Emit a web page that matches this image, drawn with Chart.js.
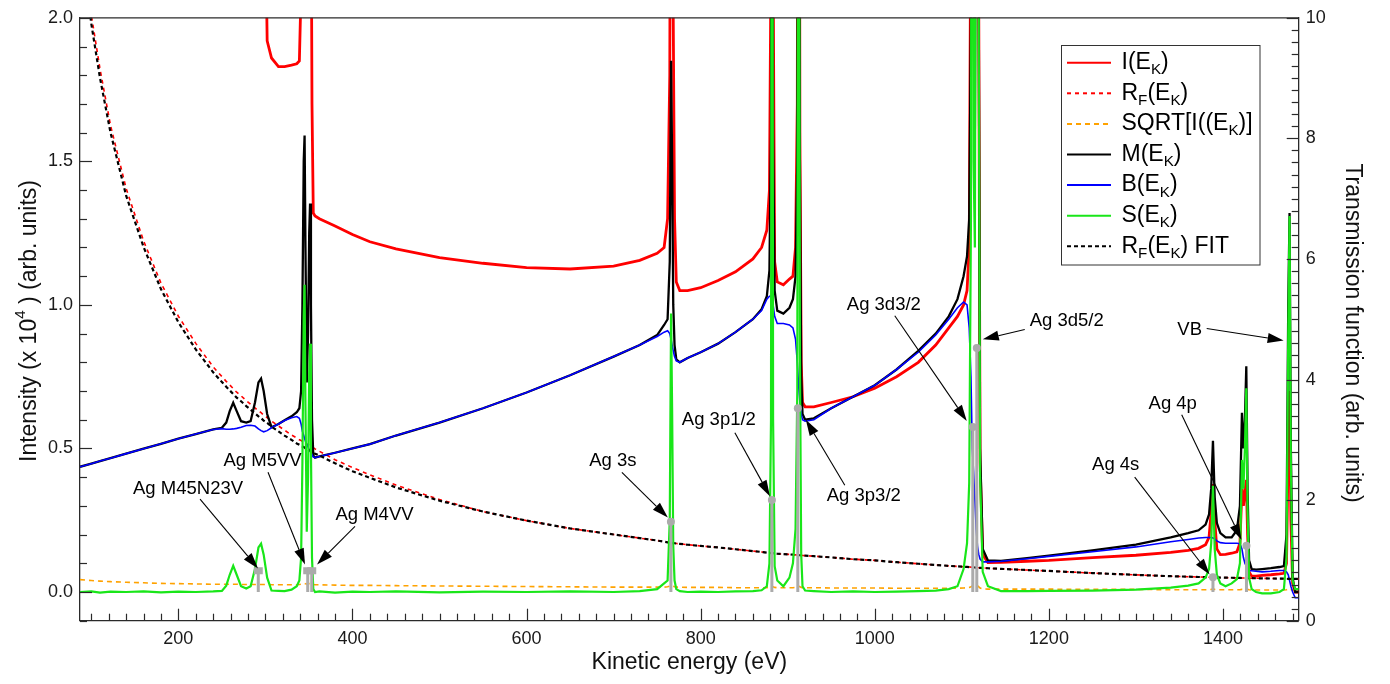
<!DOCTYPE html>
<html><head><meta charset="utf-8">
<script src="https://cdn.jsdelivr.net/npm/chart.js@4.4.1/dist/chart.umd.min.js"></script>
<style>html,body{margin:0;padding:0;background:#fff;}#wrap{width:1390px;height:684px;}</style>
</head><body><div id="wrap"><canvas id="c" width="1390" height="684"></canvas></div>
<script>
// ---------- DATA ----------
const energy = [
87,100,110,122,140,160,180,200,220,240,
250,255,259,263,267,272,278,283,288,292,
295,298,302,307,315,322,330,336,339,341,
342.5,344,345,346,347.5,349,350.3,351.3,352.3,353.5,
355,357,362,380,400,420,450,500,550,600,
650,700,730,750,758,762,764.5,766,767.2,768.5,
770,772,776,785,800,820,840,860,870,876,
879,880.8,882,883.2,885,888,895,902,906,909,
911,912.5,914,915.5,917,920,930,950,975,1000,
1025,1050,1070,1085,1095,1102,1106,1108.5,1110.5,1112,
1113.5,1115,1116.5,1118,1119.5,1121,1124,1130,1145,1175,
1200,1250,1300,1340,1360,1372,1380,1384,1386.5,1388.5,
1390.5,1393,1397,1403,1410,1416,1419.5,1421.8,1423.5,1425.2,
1426.8,1428.3,1430,1433,1438,1445,1455,1465,1470,1473,
1475,1476.5,1478,1480,1483,1487];

// I(E_K) - red solid (left axis)
const seriesI = [
null,null,null,null,null,null,null,null,null,null,
null,null,null,null,null,null,null,null,null,null,
null,2.8,1.92,1.86,1.83,1.83,1.835,1.84,1.85,2.1,
3.0,3.5,3.6,3.4,3.0,3.1,3.3,3.3,2.6,1.7,
1.32,1.31,1.3,1.275,1.245,1.22,1.195,1.165,1.145,1.13,
1.125,1.135,1.155,1.18,1.2,1.3,1.8,3.5,3.0,2.0,
1.3,1.08,1.05,1.05,1.06,1.085,1.115,1.16,1.2,1.26,
1.4,2.2,5,2.2,1.15,1.08,1.07,1.09,1.1,1.2,
1.7,5,1.6,0.8,0.66,0.645,0.645,0.66,0.68,0.71,
0.75,0.8,0.86,0.92,0.96,1.0,1.05,1.2,2.5,6,
2.5,2.0,4,7,2.0,0.45,0.13,0.102,0.103,0.107,
0.11,0.12,0.128,0.138,0.145,0.152,0.165,0.19,0.28,0.376,
0.25,0.15,0.13,0.131,0.135,0.14,0.17,0.36,0.3,0.35,
0.39,0.2,0.07,0.055,0.055,0.058,0.06,0.063,0.065,0.1,
0.5,0.7,0.25,0.03,0.0,0.0];

// R_F(E_K) - red dashed (right axis)
const seriesRF = [
11.6,10.05,9.15,8.22,7.17,6.3,5.6,5.05,4.6,4.21,
4.05,3.97,3.91,3.85,3.79,3.73,3.65,3.59,3.53,3.48,
3.45,3.41,3.37,3.31,3.23,3.16,3.08,3.03,3.0,2.99,
2.97,2.96,2.95,2.94,2.93,2.92,2.91,2.9,2.89,2.88,
2.87,2.85,2.81,2.67,2.54,2.42,2.25,2.01,1.81,1.66,
1.53,1.43,1.37,1.33,1.31,1.30,1.295,1.29,1.288,1.286,
1.285,1.28,1.275,1.26,1.24,1.215,1.185,1.155,1.14,1.13,
1.125,1.122,1.12,1.118,1.115,1.11,1.105,1.10,1.095,1.092,
1.09,1.088,1.086,1.084,1.082,1.08,1.07,1.05,1.02,1.0,
0.97,0.945,0.925,0.91,0.90,0.895,0.892,0.89,0.888,0.886,
0.884,0.882,0.88,0.879,0.878,0.877,0.875,0.87,0.86,0.84,
0.825,0.79,0.76,0.738,0.73,0.725,0.722,0.72,0.72,0.719,
0.718,0.717,0.716,0.714,0.712,0.71,0.709,0.708,0.708,0.707,
0.707,0.706,0.706,0.705,0.704,0.703,0.70,0.698,0.697,0.696,
0.695,0.695,0.694,0.694,0.693,0.692];

// R_F(E_K) FIT - black dashed (right axis)
const seriesFit = [
11.4,9.9,9.0,8.1,7.05,6.2,5.5,4.95,4.5,4.12,
3.96,3.88,3.82,3.76,3.7,3.64,3.56,3.5,3.44,3.39,
3.36,3.32,3.28,3.22,3.14,3.07,3.0,2.94,2.92,2.9,
2.89,2.88,2.87,2.86,2.85,2.84,2.83,2.82,2.81,2.8,
2.79,2.77,2.74,2.61,2.48,2.37,2.21,1.99,1.81,1.66,
1.53,1.43,1.37,1.33,1.31,1.30,1.295,1.29,1.288,1.286,
1.285,1.28,1.275,1.26,1.24,1.215,1.185,1.155,1.14,1.13,
1.125,1.122,1.12,1.118,1.115,1.11,1.105,1.10,1.095,1.092,
1.09,1.088,1.086,1.084,1.082,1.08,1.07,1.05,1.02,1.0,
0.97,0.945,0.925,0.91,0.90,0.895,0.892,0.89,0.888,0.886,
0.884,0.882,0.88,0.879,0.878,0.877,0.875,0.87,0.86,0.84,
0.825,0.79,0.76,0.738,0.73,0.725,0.722,0.72,0.72,0.719,
0.718,0.717,0.716,0.714,0.712,0.71,0.709,0.708,0.708,0.707,
0.707,0.706,0.706,0.705,0.704,0.703,0.70,0.698,0.697,0.696,
0.695,0.695,0.694,0.694,0.693,0.692];

// SQRT[I(E_K)] - orange dashed (left axis)
const seriesSqrt = [
0.043,0.040,0.038,0.036,0.034,0.032,0.030,0.029,0.028,0.027,
0.027,0.027,0.027,0.027,0.027,0.026,0.026,0.026,0.026,0.026,
0.026,0.026,0.026,0.025,0.025,0.025,0.025,0.025,0.026,0.027,
0.028,0.029,0.03,0.029,0.028,0.028,0.029,0.029,0.028,0.027,
0.026,0.025,0.025,0.024,0.023,0.023,0.022,0.021,0.02,0.019,
0.018,0.017,0.017,0.017,0.017,0.018,0.02,0.022,0.021,0.02,
0.018,0.017,0.017,0.016,0.016,0.016,0.015,0.015,0.015,0.015,
0.016,0.018,0.02,0.018,0.016,0.015,0.015,0.015,0.015,0.016,
0.018,0.02,0.018,0.016,0.015,0.015,0.015,0.014,0.014,0.014,
0.013,0.013,0.013,0.013,0.013,0.014,0.015,0.016,0.018,0.02,
0.018,0.018,0.02,0.022,0.018,0.014,0.011,0.01,0.01,0.01,
0.01,0.009,0.009,0.008,0.008,0.008,0.008,0.008,0.009,0.01,
0.009,0.008,0.008,0.008,0.008,0.008,0.008,0.009,0.009,0.009,
0.01,0.009,0.008,0.007,0.007,0.007,0.007,0.007,0.007,0.008,
0.01,0.012,0.009,0.007,0.007,0.007];

// M(E_K) - black solid (left axis)
const seriesM = [
0.436,0.447,0.456,0.466,0.482,0.499,0.516,0.534,0.55,0.566,
0.572,0.59,0.63,0.659,0.63,0.595,0.59,0.595,0.66,0.73,
0.743,0.70,0.62,0.574,0.585,0.598,0.612,0.626,0.64,0.70,
1.0,1.50,1.59,1.2,0.73,0.9,1.25,1.353,1.0,0.6,
0.475,0.468,0.472,0.485,0.50,0.515,0.545,0.59,0.64,0.695,
0.755,0.82,0.86,0.895,0.93,0.95,1.15,1.85,1.5,1.0,
0.86,0.81,0.80,0.815,0.835,0.865,0.905,0.95,0.985,1.03,
1.12,1.6,4.0,1.6,1.05,0.98,0.97,0.99,1.02,1.1,
1.5,4.0,1.5,0.75,0.62,0.60,0.605,0.64,0.68,0.72,
0.775,0.84,0.9,0.96,1.02,1.1,1.17,1.3,2.0,5,
2.0,1.6,3,6,2.0,0.5,0.15,0.11,0.108,0.118,
0.127,0.145,0.165,0.19,0.205,0.215,0.235,0.27,0.36,0.527,
0.33,0.24,0.205,0.19,0.19,0.215,0.3,0.624,0.5,0.6,
0.786,0.35,0.11,0.08,0.078,0.08,0.083,0.087,0.09,0.2,
1.0,1.32,0.5,0.05,0.0,0.0];

// B(E_K) - blue solid (left axis)
const seriesB = [
0.436,0.447,0.456,0.466,0.482,0.499,0.516,0.534,0.55,0.566,
0.569,0.567,0.567,0.568,0.57,0.574,0.58,0.581,0.578,0.568,
0.562,0.558,0.562,0.572,0.585,0.597,0.607,0.611,0.605,0.585,
0.56,0.545,0.535,0.525,0.515,0.505,0.495,0.49,0.485,0.478,
0.47,0.468,0.472,0.485,0.50,0.515,0.545,0.59,0.64,0.695,
0.755,0.82,0.86,0.89,0.905,0.91,0.9,0.88,0.86,0.84,
0.82,0.805,0.80,0.815,0.835,0.865,0.905,0.95,0.98,1.02,
1.03,1.03,1.02,1.0,0.96,0.935,0.935,0.93,0.92,0.88,
0.8,0.72,0.66,0.62,0.60,0.595,0.60,0.64,0.68,0.72,
0.775,0.835,0.895,0.95,0.99,1.01,1.0,0.92,0.75,0.5,
0.42,0.32,0.22,0.16,0.13,0.115,0.105,0.105,0.107,0.116,
0.124,0.14,0.157,0.175,0.183,0.188,0.19,0.19,0.19,0.188,
0.185,0.178,0.172,0.17,0.17,0.17,0.168,0.15,0.12,0.1,
0.09,0.08,0.075,0.074,0.072,0.07,0.072,0.075,0.075,0.07,
0.06,0.04,0.02,0.0,-0.02,-0.02];

// S(E_K) - green solid (left axis)
const seriesS = [
0.0,0.002,-0.002,0.001,0.0,0.002,-0.001,0.001,0.0,0.002,
0.004,0.022,0.06,0.091,0.06,0.02,0.012,0.02,0.08,0.155,
0.168,0.13,0.05,0.005,0.004,0.003,0.008,0.02,0.04,0.12,
0.45,0.96,1.07,0.65,0.21,0.4,0.76,0.865,0.5,0.12,
0.01,0.0,0.002,-0.002,0.001,0.0,0.002,-0.001,0.001,0.0,
0.002,0.0,0.003,0.01,0.03,0.04,0.25,0.97,0.64,0.16,
0.04,0.01,0.003,0.0,0.001,0.0,0.002,0.003,0.006,0.02,
0.1,0.6,4.0,0.6,0.09,0.04,0.02,0.05,0.1,0.22,
0.7,4.0,0.84,0.13,0.02,0.005,0.003,0.0,0.002,0.0,
0.001,0.003,0.005,0.01,0.02,0.08,0.17,0.38,1.3,5,
1.5,1.2,3,6,1.9,0.4,0.07,0.02,0.003,0.003,
0.004,0.005,0.008,0.015,0.022,0.03,0.05,0.08,0.17,0.37,
0.15,0.06,0.03,0.02,0.03,0.045,0.1,0.46,0.36,0.5,
0.71,0.28,0.05,0.01,0.0,-0.005,-0.005,0.0,0.01,0.12,
0.9,1.31,0.45,0.04,0.01,0.01];

// Peak position markers (grey)
const markerEnergy = [291.8, 348.6, 353.2, 765.8, 881.8, 911.6, 1112.6, 1117.2, 1388.5, 1427];
const markerLevel  = [0.074, 0.074, 0.074, 0.245, 0.32, 0.64, 0.575, 0.85, 0.051, 0.161];
const markerSquare = [true, true, true, false, false, false, false, false, false, false];

// Tick labels
const xTickValues = [200, 400, 600, 800, 1000, 1200, 1400];
const leftTickValues = [0, 0.5, 1.0, 1.5, 2.0];
const rightTickValues = [0, 2, 4, 6, 8, 10];

// Annotations (data coordinates: text centre, arrow tail, arrow head)
const annoText = ['Ag M45N23V','Ag M5VV','Ag M4VV','Ag 3s','Ag 3p1/2','Ag 3p3/2','Ag 3d3/2','Ag 3d5/2','Ag 4s','Ag 4p','VB'];
const annoTextE = [211.1, 296.7, 425.3, 699.2, 820.9, 987.4, 1010.4, 1220.5, 1276.8, 1342.3, 1361.8];
const annoTextV = [0.358, 0.458, 0.268, 0.458, 0.600, 0.334, 1.000, 0.945, 0.441, 0.655, 0.914];
const annoTailE = [224.9, 303.0, 402.9, 709.5, 839.3, 965.6, 1023.0, 1172.3, 1298.6, 1352.6, 1381.3];
const annoTailV = [0.3235, 0.4168, 0.2287, 0.4168, 0.5549, 0.3719, 0.962, 0.914, 0.400, 0.617, 0.9175];
const annoHeadE = [291.5, 345.5, 359.3, 762.3, 879.5, 920.8, 1105.7, 1124.1, 1384.7, 1421.2, 1469.7];
const annoHeadV = [0.0818, 0.0956, 0.0956, 0.2594, 0.3339, 0.5998, 0.596, 0.88, 0.0613, 0.182, 0.876];

// ---------- RENDER ----------
const FAM = '"Liberation Sans", Arial, Helvetica, sans-serif';
Chart.defaults.font.family = FAM;
Chart.defaults.color = '#1a1a1a';

function pts(arr){ return energy.map((e,i)=>({x:e, y:arr[i]})); }

function rich(ctx, parts, x, y, size, align){
  let w = 0;
  parts.forEach(p=>{ ctx.font = (p[1] ? size*0.66 : size) + 'px ' + FAM; w += ctx.measureText(p[0]).width; });
  let cx = align === 'center' ? x - w/2 : x;
  ctx.textAlign = 'left'; ctx.textBaseline = 'middle';
  parts.forEach(p=>{
    const s = p[1] ? size*0.66 : size;
    ctx.font = s + 'px ' + FAM;
    const dy = p[1] === 'sub' ? size*0.32 : (p[1] === 'sup' ? -size*0.42 : 0);
    ctx.fillText(p[0], cx, y + dy);
    cx += ctx.measureText(p[0]).width;
  });
}

const legendItems = [
  {parts:[['I(E'],['K','sub'],[')']], color:'#ff0000', dash:[]},
  {parts:[['R'],['F','sub'],['(E'],['K','sub'],[')']], color:'#ff0000', dash:[4,4]},
  {parts:[['SQRT[I((E'],['K','sub'],[')]']], color:'#ffa200', dash:[5,4]},
  {parts:[['M(E'],['K','sub'],[')']], color:'#000000', dash:[]},
  {parts:[['B(E'],['K','sub'],[')']], color:'#0000ff', dash:[]},
  {parts:[['S(E'],['K','sub'],[')']], color:'#19e619', dash:[]},
  {parts:[['R'],['F','sub'],['(E'],['K','sub'],[') FIT']], color:'#000000', dash:[4,3]},
];

const decor = {
  id:'decor',
  afterDatasetsDraw(chart){
    const ctx = chart.ctx, xs = chart.scales.x, yl = chart.scales.y;
    const a = chart.chartArea;
    ctx.save();
    ctx.beginPath(); ctx.rect(a.left, a.top, a.right-a.left, a.bottom-a.top); ctx.clip();
    ctx.fillStyle = '#ababab'; ctx.strokeStyle = '#ababab'; ctx.lineWidth = 3;
    markerEnergy.forEach((e,i)=>{
      const px = xs.getPixelForValue(e), py = yl.getPixelForValue(markerLevel[i]), p0 = yl.getPixelForValue(0);
      ctx.beginPath(); ctx.moveTo(px, py); ctx.lineTo(px, p0); ctx.stroke();
      if (markerSquare[i]) { ctx.fillRect(px-4.5, py-3.5, 9, 7); }
      else { ctx.beginPath(); ctx.arc(px, py, 4, 0, Math.PI*2); ctx.fill(); }
    });
    ctx.restore();
    ctx.save();
    ctx.fillStyle = '#000'; ctx.strokeStyle = '#000';
    annoText.forEach((t,i)=>{
      const tx = xs.getPixelForValue(annoTextE[i]), ty = yl.getPixelForValue(annoTextV[i]);
      ctx.font = '18.5px ' + FAM; ctx.textAlign = 'center'; ctx.textBaseline = 'middle';
      ctx.fillText(t, tx, ty);
      const x0 = xs.getPixelForValue(annoTailE[i]), y0 = yl.getPixelForValue(annoTailV[i]);
      const x1 = xs.getPixelForValue(annoHeadE[i]), y1 = yl.getPixelForValue(annoHeadV[i]);
      const ang = Math.atan2(y1-y0, x1-x0), L = 16, W = 5;
      const bx = x1 - L*Math.cos(ang), by = y1 - L*Math.sin(ang);
      ctx.lineWidth = 1.1;
      ctx.beginPath(); ctx.moveTo(x0, y0); ctx.lineTo(bx, by); ctx.stroke();
      ctx.beginPath(); ctx.moveTo(x1, y1);
      ctx.lineTo(bx + W*Math.sin(ang), by - W*Math.cos(ang));
      ctx.lineTo(bx - W*Math.sin(ang), by + W*Math.cos(ang));
      ctx.closePath(); ctx.fill();
    });
    ctx.restore();
  },
  afterDraw(chart){
    const ctx = chart.ctx, xs = chart.scales.x, yl = chart.scales.y, yr = chart.scales.y1;
    const a = chart.chartArea;
    ctx.save();
    ctx.strokeStyle = '#2a2a2a'; ctx.lineWidth = 1.3;
    ctx.beginPath(); ctx.moveTo(a.left, a.top); ctx.lineTo(a.right, a.top); ctx.stroke();
    ctx.lineWidth = 1.2;
    for (let v = 100; v <= 1480; v += 20) {
      const px = Math.round(xs.getPixelForValue(v)) + 0.5;
      const len = (v % 200 === 0) ? 12 : 7;
      ctx.beginPath(); ctx.moveTo(px, a.bottom); ctx.lineTo(px, a.bottom - len); ctx.stroke();
    }
    for (let k = -1; k <= 20; k++) {
      const v = k/10, py = Math.round(yl.getPixelForValue(v)) + 0.5;
      const len = (k % 5 === 0) ? 12 : 7;
      ctx.beginPath(); ctx.moveTo(a.left, py); ctx.lineTo(a.left + len, py); ctx.stroke();
    }
    for (let k = 0; k <= 50; k++) {
      const v = k/5, py = Math.round(yr.getPixelForValue(v)) + 0.5;
      const len = (k % 10 === 0) ? 12 : 7;
      ctx.beginPath(); ctx.moveTo(a.right, py); ctx.lineTo(a.right - len, py); ctx.stroke();
    }
    ctx.fillStyle = '#111';
    ctx.font = '23px ' + FAM; ctx.textAlign = 'center'; ctx.textBaseline = 'middle';
    ctx.fillText('Kinetic energy (eV)', (a.left + a.right)/2, 663);
    ctx.save(); ctx.translate(30, 321); ctx.rotate(-Math.PI/2);
    rich(ctx, [['Intensity (x 10'],['4','sup'],[' ) (arb. units)']], 0, 0, 23, 'center');
    ctx.restore();
    ctx.save(); ctx.translate(1352, 333); ctx.rotate(Math.PI/2);
    ctx.font = '23px ' + FAM; ctx.textAlign = 'center'; ctx.textBaseline = 'middle';
    ctx.fillText('Transmission function (arb. units)', 0, 0);
    ctx.restore();
    ctx.fillStyle = '#fff'; ctx.fillRect(1061, 45, 199, 220);
    ctx.strokeStyle = '#333'; ctx.lineWidth = 1; ctx.strokeRect(1061.5, 45.5, 198.5, 219.5);
    legendItems.forEach((it, i)=>{
      const y = 62.7 + i*30.6;
      ctx.strokeStyle = it.color; ctx.lineWidth = 2; ctx.setLineDash(it.dash);
      ctx.beginPath(); ctx.moveTo(1067, y); ctx.lineTo(1111, y); ctx.stroke();
      ctx.setLineDash([]);
      ctx.fillStyle = '#000';
      rich(ctx, it.parts, 1121.5, y, 23, 'left');
    });
    ctx.restore();
  }
};

const common = {pointRadius:0, pointHoverRadius:0, tension:0, spanGaps:false, fill:false};
new Chart(document.getElementById('c'), {
  type:'line',
  data:{ datasets:[
    Object.assign({label:'S', data:pts(seriesS), yAxisID:'y', borderColor:'#19e619', borderWidth:2.2, order:1}, common),
    Object.assign({label:'FIT', data:pts(seriesFit), yAxisID:'y1', borderColor:'#000', borderWidth:2.2, borderDash:[4,3], order:2}, common),
    Object.assign({label:'B', data:pts(seriesB), yAxisID:'y', borderColor:'#0000ff', borderWidth:1.6, order:3}, common),
    Object.assign({label:'M', data:pts(seriesM), yAxisID:'y', borderColor:'#000', borderWidth:2.3, order:4}, common),
    Object.assign({label:'RF', data:pts(seriesRF), yAxisID:'y1', borderColor:'#ff0000', borderWidth:1.6, borderDash:[4,4], order:5}, common),
    Object.assign({label:'SQRT', data:pts(seriesSqrt), yAxisID:'y', borderColor:'#ffa200', borderWidth:1.6, borderDash:[5,4], order:6}, common),
    Object.assign({label:'I', data:pts(seriesI), yAxisID:'y', borderColor:'#ff0000', borderWidth:2.8, order:7}, common)
  ]},
  options:{
    responsive:false, animation:false, events:[],
    layout:{padding:{top:11.5, left:0, right:0, bottom:0}},
    plugins:{legend:{display:false}, tooltip:{enabled:false}},
    scales:{
      x:{type:'linear', position:'bottom', min:87, max:1487,
         grid:{display:false, drawTicks:false},
         border:{display:true, color:'#2a2a2a', width:1.3},
         afterBuildTicks:s=>{ s.ticks = xTickValues.map(v=>({value:v})); },
         afterFit:s=>{ s.height = 63.3; },
         ticks:{font:{size:18}, color:'#1a1a1a', padding:8, maxRotation:0, autoSkip:false, callback:v=>String(v)}},
      y:{type:'linear', position:'left', min:-0.1, max:2.0,
         grid:{display:false, drawTicks:false},
         border:{display:true, color:'#2a2a2a', width:1.3},
         afterBuildTicks:s=>{ s.ticks = leftTickValues.map(v=>({value:v})); },
         afterFit:s=>{ s.width = 80; },
         ticks:{font:{size:18}, color:'#1a1a1a', padding:7, callback:v=>Number(v).toFixed(1)}},
      y1:{type:'linear', position:'right', min:0, max:10,
         grid:{display:false, drawTicks:false},
         border:{display:true, color:'#2a2a2a', width:1.3},
         afterBuildTicks:s=>{ s.ticks = rightTickValues.map(v=>({value:v})); },
         afterFit:s=>{ s.width = 91.3; },
         ticks:{font:{size:18}, color:'#1a1a1a', padding:7, callback:v=>String(v)}}
    }
  },
  plugins:[decor]
});
</script>
</body></html>
